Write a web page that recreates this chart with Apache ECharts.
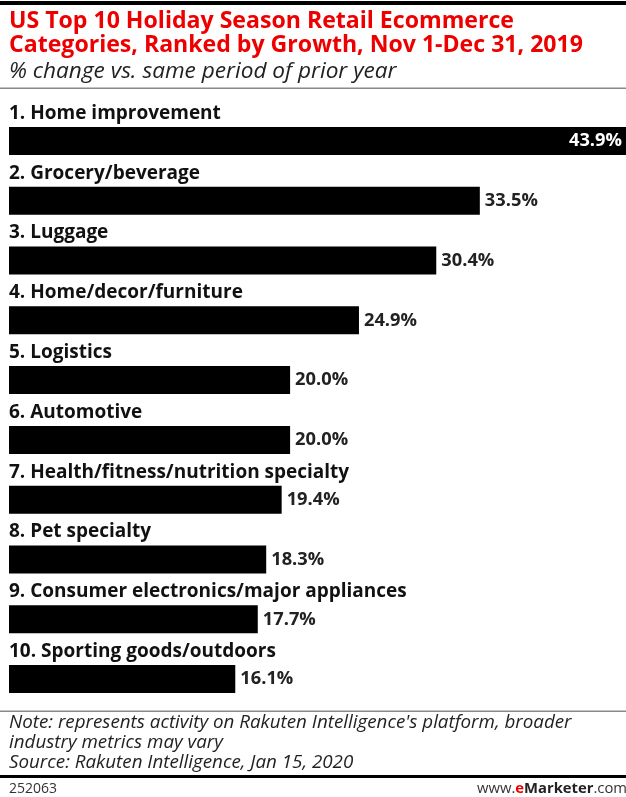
<!DOCTYPE html>
<html><head><meta charset="utf-8">
<script src="https://cdn.jsdelivr.net/npm/echarts@6/dist/echarts.min.js"></script>
<style>html,body{margin:0;padding:0;background:#fff}#c{width:626px;height:797px}</style>
</head><body><div id="c"></div>
<script>
const categories = [
  "1. Home improvement",
  "2. Grocery/beverage",
  "3. Luggage",
  "4. Home/decor/furniture",
  "5. Logistics",
  "6. Automotive",
  "7. Health/fitness/nutrition specialty",
  "8. Pet specialty",
  "9. Consumer electronics/major appliances",
  "10. Sporting goods/outdoors"
];
const values = [43.9, 33.5, 30.4, 24.9, 20.0, 20.0, 19.4, 18.3, 17.7, 16.1];
const titleText = "US Top 10 Holiday Season Retail Ecommerce\nCategories, Ranked by Growth, Nov 1-Dec 31, 2019";
const subtitleText = "% change vs. same period of prior year";
const noteText = "Note: represents activity on Rakuten Intelligence's platform, broader\nindustry metrics may vary\nSource: Rakuten Intelligence, Jan 15, 2020";

const font = "'Open Sans', Lato, sans-serif";
const chart = echarts.init(document.getElementById('c'), null, {renderer: 'canvas'});
chart.setOption({
  animation: false,
  backgroundColor: '#fff',
  title: [
    {text: titleText, left: 9, top: 9, padding: 0, textStyle: {color: '#ee0000', fontFamily: font, fontWeight: 'bold', fontSize: 23.1, lineHeight: 24.5}},
    {text: subtitleText, left: 9, top: 60, padding: 0, textStyle: {color: '#222', fontFamily: font, fontStyle: 'italic', fontWeight: 'normal', fontSize: 22.6, lineHeight: 24}},
    {text: noteText, left: 9, top: 713, padding: 0, textStyle: {color: '#222', fontFamily: font, fontStyle: 'italic', fontWeight: 'normal', fontSize: 18.8, lineHeight: 20}},
    {text: "252063", left: 9, top: 780, padding: 0, textStyle: {color: '#333', fontFamily: font, fontWeight: 'normal', fontSize: 14, lineHeight: 18}},
    {text: "www.{e|e}{m|Marketer}.com", left: 477, top: 780, padding: 0, textStyle: {color: '#333', fontFamily: font, fontWeight: 'normal', fontSize: 14.8, lineHeight: 18,
      rich: {e: {color: '#ee0000', fontWeight: 'bold', fontSize: 14.8, fontFamily: font, lineHeight: 18}, m: {color: '#222', fontWeight: 'bold', fontSize: 14.8, fontFamily: font, lineHeight: 18}}}}
  ],
  graphic: [
    {type: 'rect', shape: {x: 0, y: 1, width: 626, height: 4}, style: {fill: '#000'}},
    {type: 'rect', shape: {x: 0, y: 87.5, width: 626, height: 1.5}, style: {fill: '#888'}},
    {type: 'rect', shape: {x: 0, y: 710.5, width: 626, height: 1.5}, style: {fill: '#888'}},
    {type: 'rect', shape: {x: 0, y: 775, width: 626, height: 3}, style: {fill: '#000'}}
  ],
  grid: {left: 9, right: 0, top: 111, height: 598, containLabel: false},
  xAxis: {type: 'value', min: 0, max: 43.9, show: false},
  yAxis: {
    type: 'category', data: categories, inverse: true,
    axisLine: {show: false}, axisTick: {show: false}, splitLine: {show: false},
    axisLabel: {inside: true, margin: 0, align: 'left', verticalAlign: 'bottom', padding: [0, 0, 18, 0],
      color: '#111', fontFamily: font, fontWeight: 'bold', fontSize: 19}
  },
  series: [{
    type: 'bar', barWidth: 28,
    data: values.map((v, i) => i === 0 ? {value: v, label: {position: 'insideRight', color: '#fff', distance: 4}} : v),
    itemStyle: {color: '#000'},
    label: {
      show: true, fontFamily: font, fontWeight: 'bold', fontSize: 18.3,
      formatter: p => p.value.toFixed(1) + '%',
      position: 'right', distance: 5, color: '#222'
    }
  }]
});
</script></body></html>
